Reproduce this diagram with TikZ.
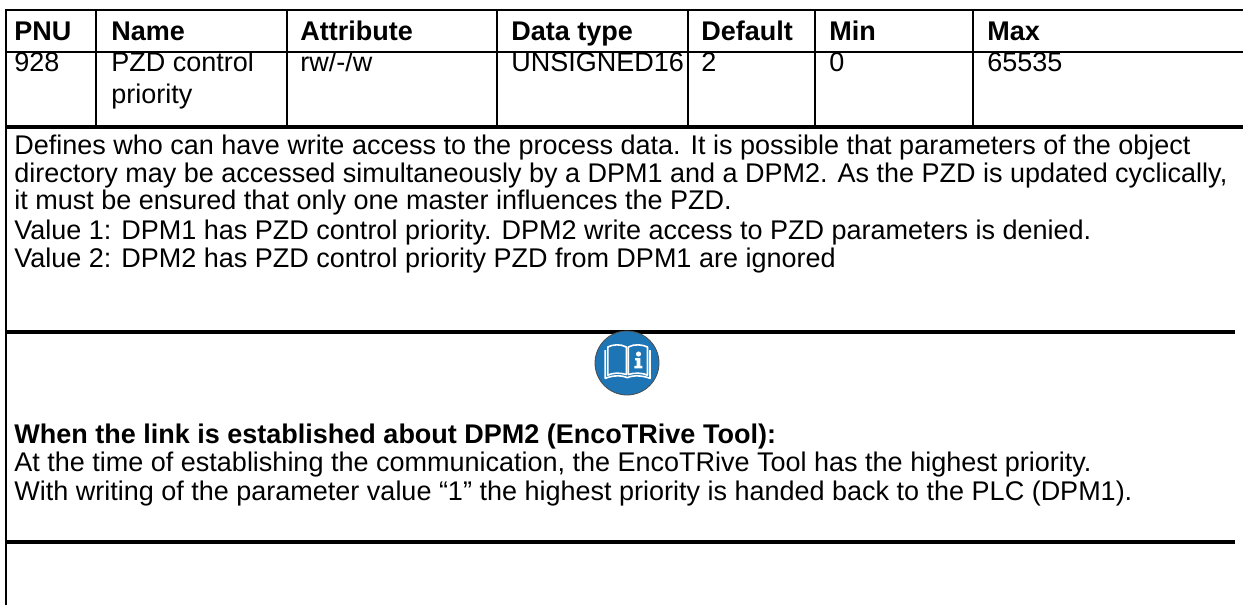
\documentclass[tikz,border=0pt]{standalone}
\usepackage{fontspec}
\setmainfont{Liberation Sans}
\usetikzlibrary{positioning}
\definecolor{infoblue}{RGB}{30,117,182}
\tikzset{
  txt/.style={anchor=base west, inner sep=0pt, font=\fontsize{13.5}{16}\selectfont},
  headtxt/.style={txt, font=\fontsize{13.5}{16}\selectfont\bfseries},
  gridline/.style={line width=1.1pt, black},
  rulebar/.style={line width=1.6pt, black},
}
\begin{document}
\begin{tikzpicture}[x=0.5pt,y=-0.5pt]
\def\hb{40}
\def\ra{71}
\def\rb{103}
\useasboundingbox (0,0) rectangle (1243,605);
% table frame
\draw[gridline] (6,10) -- (1243,10);
\draw[gridline] (6,52) -- (1243,52);
\draw[rulebar] (6,127) -- (1243,127);
\draw[gridline] (6,9) -- (6,605);
\draw[gridline] (96,10) -- (96,127);
\draw[gridline] (287,10) -- (287,127);
\draw[gridline] (497,10) -- (497,127);
\draw[gridline] (688,10) -- (688,127);
\draw[gridline] (815,10) -- (815,127);
\draw[gridline] (973,10) -- (973,127);
% header
\node[headtxt, name=pnu]   at (14,\hb)  {PNU};
\node[headtxt, name=name]  at (111,\hb) {Name};
\node[headtxt, name=attr]  at (300,\hb) {Attribute};
\node[headtxt, name=dtype] at (511,\hb) {Data type};
\node[headtxt, name=dflt]  at (701,\hb) {Default};
\node[headtxt, name=min]   at (829,\hb) {Min};
\node[headtxt, name=max]   at (987,\hb) {Max};
% row
\node[txt, name=pnuval]   at (14,\ra)  {928};
\node[txt, name=nameval]  at (111,\ra) {PZD control};
\node[txt, name=namevalb] at (111,\rb) {priority};
\node[txt, name=attrval]  at (300,\ra) {rw/-/w};
\node[txt, name=dtypeval] at (511,\ra) {UNSIGNED16};
\node[txt, name=dfltval]  at (701,\ra) {2};
\node[txt, name=minval]   at (829,\ra) {0};
\node[txt, name=maxval]   at (987,\ra) {65535};
% description
\node[txt, name=desca] at (14,154) {Defines who can have write access to the process data. It is possible that parameters of the object};
\node[txt, name=descb] at (14,182) {directory may be accessed simultaneously by a DPM1 and a DPM2. As the PZD is updated cyclically,};
\node[txt, name=descc] at (14,209) {it must be ensured that only one master influences the PZD.};
\node[txt, name=vala]  at (14,239) {Value 1: DPM1 has PZD control priority. DPM2 write access to PZD parameters is denied.};
\node[txt, name=valb]  at (14,267) {Value 2: DPM2 has PZD control priority PZD from DPM1 are ignored};
\draw[rulebar] (6,332) -- (1235,332);
% info sign
\node[circle, fill=infoblue, draw=black!70, line width=0.4pt, minimum size=32pt, inner sep=0pt, name=info] at (627,363) {};
\begin{scope}[shift={(info.center)}, x=16pt, y=16pt, white, line width=0.8pt, line join=round]
\draw (-0.02,-0.36) -- (-0.02,0.50) .. controls (-0.2,0.60) and (-0.45,0.58) .. (-0.60,0.50) -- (-0.60,-0.38) .. controls (-0.45,-0.30) and (-0.2,-0.30) .. cycle;
\draw (0.04,-0.36) -- (0.04,0.50) .. controls (0.22,0.60) and (0.48,0.58) .. (0.64,0.50) -- (0.64,-0.38) .. controls (0.48,-0.30) and (0.22,-0.30) .. cycle;
\draw (-0.68,0.40) -- (-0.68,-0.48) .. controls (-0.45,-0.38) and (-0.15,-0.38) .. (0.01,-0.46) .. controls (0.17,-0.38) and (0.47,-0.38) .. (0.72,-0.48) -- (0.72,0.40);
\fill (0.36,0.28) circle (0.08);
\fill (0.25,0.15) -- (0.42,0.15) -- (0.42,-0.09) -- (0.48,-0.09) -- (0.48,-0.17) -- (0.23,-0.17) -- (0.23,-0.09) -- (0.30,-0.09) -- (0.30,0.08) -- (0.25,0.08) -- cycle;
\end{scope}
% note
\node[headtxt, name=linkhead] at (14,443) {When the link is established about DPM2 (EncoTRive Tool):};
\node[txt, name=linka] at (14,471) {At the time of establishing the communication, the EncoTRive Tool has the highest priority.};
\node[txt, name=linkb] at (14,500) {With writing of the parameter value “1” the highest priority is handed back to the PLC (DPM1).};
\draw[rulebar] (6,542) -- (1235,542);
\end{tikzpicture}
\end{document}
